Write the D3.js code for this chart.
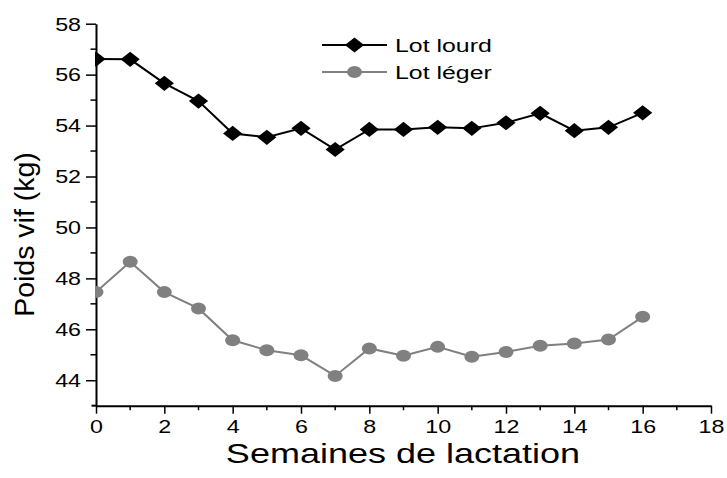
<!DOCTYPE html>
<html><head><meta charset="utf-8">
<script src="https://cdn.jsdelivr.net/npm/d3@7"></script>
<style>
body{margin:0;background:#fff;}
text{font-family:"Liberation Sans",Arial,sans-serif;fill:#000;}
</style></head>
<body><svg id="c" width="727" height="478"></svg>
<script>
const weeks = [0,1,2,3,4,5,6,7,8,9,10,11,12,13,14,15,16];
const lourd = [56.61,56.60,55.66,54.96,53.69,53.54,53.89,53.06,53.85,53.85,53.93,53.89,54.11,54.48,53.80,53.93,54.50];
const leger = [47.46,48.65,47.46,46.82,45.57,45.18,44.98,44.17,45.25,44.96,45.31,44.92,45.11,45.35,45.44,45.60,46.49];
const xTicks = [0,2,4,6,8,10,12,14,16,18];
const xMinor = [1,3,5,7,9,11,13,15,17];
const yTicks = [44,46,48,50,52,54,56,58];
const yMinor = [45,47,49,51,53,55,57];
const seriesNames = ["Lot lourd","Lot léger"];
const xTitle = "Semaines de lactation";
const yTitle = "Poids vif (kg)";

const SX = 1.33;
const svg = d3.select("#c");
const x = d3.scaleLinear([0,18],[96,711]);
const y = d3.scaleLinear([43,58],[405.7,23.7]);

// axes
const gx = svg.append("g").attr("transform","translate(0,405.7)");
gx.call(d3.axisBottom(x).tickValues(xTicks).tickSize(8).tickSizeOuter(0).tickFormat(d3.format("d")));
gx.append("g").selectAll("line").data(xMinor).join("line")
  .attr("x1",d=>x(d)).attr("x2",d=>x(d)).attr("y1",0).attr("y2",4.5).attr("stroke","#000").attr("stroke-width",1.5);
const gy = svg.append("g").attr("transform","translate(96,0)");
gy.call(d3.axisLeft(y).tickValues(yTicks).tickSize(10).tickSizeOuter(0).tickFormat(d3.format("d")));
gy.append("g").selectAll("line").data(yMinor).join("line")
  .attr("y1",d=>y(d)).attr("y2",d=>y(d)).attr("x1",0).attr("x2",-5.5).attr("stroke","#000").attr("stroke-width",1.5);
[gx,gy].forEach(g=>{
  g.select(".domain").attr("stroke-width",2);
  g.selectAll(".tick line").attr("stroke-width",1.5);
  g.selectAll(".tick text").attr("font-size",17.5).attr("font-family","Liberation Sans, Arial, sans-serif").attr("fill","#000");
});
gx.selectAll(".tick text").attr("y",0).attr("dy",0).attr("transform",`translate(0,27.6) scale(${SX},1)`);
gy.selectAll(".tick text").attr("x",0).attr("dy",0).attr("text-anchor","end").attr("transform",`translate(-15,6.3) scale(${SX},1)`);
// extend x axis slightly left of y-axis corner
svg.append("line").attr("x1",91.5).attr("x2",96).attr("y1",405.7).attr("y2",405.7).attr("stroke","#000").attr("stroke-width",2);

// titles
svg.append("text").attr("transform",`translate(403,463) scale(1.31,1)`).attr("text-anchor","middle")
  .attr("font-size",27.5).text(xTitle);
svg.append("text").attr("transform",`translate(33.5,234.5) rotate(-90)`).attr("text-anchor","middle")
  .attr("font-size",28.5).text(yTitle);

// clip
svg.append("clipPath").attr("id","clip").append("rect").attr("x",95).attr("y",0).attr("width",632).attr("height",478);
const plot = svg.append("g").attr("clip-path","url(#clip)");

const line = d3.line().x((d,i)=>x(weeks[i])).y(d=>y(d));
const diamond = "M0,-7.6L9.6,0L0,7.6L-9.6,0Z";

plot.append("path").datum(leger).attr("d",line).attr("fill","none").attr("stroke","#808080").attr("stroke-width",2);
plot.selectAll(".c").data(leger).join("ellipse").attr("class","c")
  .attr("cx",(d,i)=>x(weeks[i])).attr("cy",d=>y(d)).attr("rx",7.5).attr("ry",6).attr("fill","#808080");

plot.append("path").datum(lourd).attr("d",line).attr("fill","none").attr("stroke","#000").attr("stroke-width",2);
plot.selectAll(".dm").data(lourd).join("path").attr("class","dm")
  .attr("transform",(d,i)=>`translate(${x(weeks[i])},${y(d)})`).attr("d",diamond).attr("fill","#000");

// legend
const lg = svg.append("g");
const rows = [{name:seriesNames[0],col:"#000",sym:"d",yy:45},{name:seriesNames[1],col:"#808080",sym:"c",yy:72}];
rows.forEach(r=>{
  lg.append("line").attr("x1",322).attr("x2",387).attr("y1",r.yy).attr("y2",r.yy).attr("stroke",r.col).attr("stroke-width",2);
  if(r.sym==="d") lg.append("path").attr("d",diamond).attr("transform",`translate(354.5,${r.yy})`).attr("fill",r.col);
  else lg.append("ellipse").attr("cx",354.5).attr("cy",r.yy).attr("rx",7.5).attr("ry",6).attr("fill",r.col);
  lg.append("text").attr("transform",`translate(395,${r.yy+7.3}) scale(${SX},1)`).attr("font-size",18.7).text(r.name);
});
</script></body></html>
